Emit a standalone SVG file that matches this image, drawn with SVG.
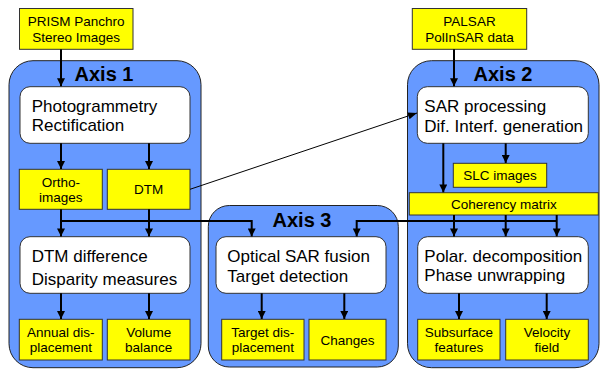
<svg xmlns="http://www.w3.org/2000/svg" width="600" height="369" viewBox="0 0 600 369">
<defs>
<style>
.axis{fill:#6699ff;stroke:#222;stroke-width:1}
.proc{fill:#ffffff;stroke:#333;stroke-width:1}
.data{fill:#ffff00;stroke:#333;stroke-width:1}
.ttl{font-family:"Liberation Sans",Arial,sans-serif;font-weight:bold;font-size:20px;fill:#000;text-anchor:middle}
.big{font-family:"Liberation Sans",Arial,sans-serif;font-size:17px;fill:#000}
.sm{font-family:"Liberation Sans",Arial,sans-serif;font-size:13.5px;fill:#000;text-anchor:middle}
.c{fill:none;stroke:#000;stroke-width:2}
.thin{fill:none;stroke:#000;stroke-width:1}
</style>
<marker id="ah" markerUnits="userSpaceOnUse" markerWidth="8" markerHeight="8" viewBox="0 0 8 8" refX="8" refY="4" orient="auto">
<path d="M0,0 L8,4 L0,8 Z" fill="#000"/>
</marker>
<marker id="ahs" markerUnits="userSpaceOnUse" markerWidth="9" markerHeight="7" viewBox="0 0 9 7" refX="9" refY="3.5" orient="auto">
<path d="M0,0 L9,3.5 L0,7 Z" fill="#000"/>
</marker>
</defs>

<g id="axis1">
<rect class="axis" x="9" y="60.7" width="192" height="307" rx="24"/>
<text class="ttl" x="104" y="81">Axis 1</text>
</g>
<g id="axis3">
<rect class="axis" x="208.3" y="205.5" width="190" height="161.5" rx="21"/>
<text class="ttl" x="302" y="227">Axis 3</text>
</g>
<g id="axis2">
<rect class="axis" x="407.5" y="60.7" width="191.5" height="307" rx="24"/>
<text class="ttl" x="503" y="81">Axis 2</text>
</g>

<g id="prism">
<rect class="data" x="19.5" y="8.5" width="113.5" height="40.8"/>
<text class="sm" x="76.2" y="26.3">PRISM Panchro</text>
<text class="sm" x="76.2" y="41.7">Stereo Images</text>
</g>
<g id="palsar">
<rect class="data" x="412.3" y="8.5" width="114.4" height="40.8"/>
<text class="sm" x="469.5" y="26.3">PALSAR</text>
<text class="sm" x="469.5" y="41.7">PolInSAR data</text>
</g>

<g id="photogrammetry">
<rect class="proc" x="20" y="86.7" width="170" height="56.6" rx="10"/>
<text class="big" x="31.7" y="111.7">Photogrammetry</text>
<text class="big" x="31.7" y="131">Rectification</text>
</g>
<g id="orthoimages">
<rect class="data" x="19.3" y="169.3" width="83" height="40"/>
<text class="sm" x="60.8" y="186.5">Ortho-</text>
<text class="sm" x="60.8" y="201.5">images</text>
</g>
<g id="dtm">
<rect class="data" x="107.3" y="169.3" width="82.7" height="40"/>
<text class="sm" x="148.7" y="194.3">DTM</text>
</g>
<g id="dtmdiff">
<rect class="proc" x="20" y="236.7" width="170" height="56.6" rx="10"/>
<text class="big" x="31.7" y="261.7">DTM difference</text>
<text class="big" x="31.7" y="285">Disparity measures</text>
</g>
<g id="annual">
<rect class="data" x="19.3" y="319.3" width="83" height="40.7"/>
<text class="sm" x="60.8" y="337.3">Annual dis-</text>
<text class="sm" x="60.8" y="352">placement</text>
</g>
<g id="volume">
<rect class="data" x="107.3" y="319.3" width="82.7" height="40.7"/>
<text class="sm" x="148.7" y="337.3">Volume</text>
<text class="sm" x="148.7" y="352">balance</text>
</g>

<g id="optical">
<rect class="proc" x="216" y="236.7" width="170" height="56.6" rx="10"/>
<text class="big" x="227.3" y="261.7">Optical SAR fusion</text>
<text class="big" x="227.3" y="281.7">Target detection</text>
</g>
<g id="targetdisp">
<rect class="data" x="221.7" y="319.3" width="82.3" height="40.7"/>
<text class="sm" x="262.8" y="337.3">Target dis-</text>
<text class="sm" x="262.8" y="352">placement</text>
</g>
<g id="changes">
<rect class="data" x="309" y="319.3" width="77" height="40.7"/>
<text class="sm" x="347.5" y="344.7">Changes</text>
</g>

<g id="sarproc">
<rect class="proc" x="417.3" y="86.7" width="171" height="56.6" rx="10"/>
<text class="big" x="424.3" y="111.7">SAR processing</text>
<text class="big" x="424.3" y="131.7">Dif. Interf. generation</text>
</g>
<g id="slc">
<rect class="data" x="453.3" y="163.3" width="93.4" height="24"/>
<text class="sm" x="500" y="180.2">SLC images</text>
</g>
<g id="coherency">
<rect class="data" x="409.3" y="192.7" width="189" height="22.3"/>
<text class="sm" x="503.8" y="208.7">Coherency matrix</text>
</g>
<g id="polar">
<rect class="proc" x="417.7" y="236.7" width="170.6" height="56.6" rx="10"/>
<text class="big" x="424.3" y="261.7">Polar. decomposition</text>
<text class="big" x="424.3" y="281.3">Phase unwrapping</text>
</g>
<g id="subsurface">
<rect class="data" x="417.7" y="319.3" width="82.3" height="40.7"/>
<text class="sm" x="458.8" y="337.3">Subsurface</text>
<text class="sm" x="458.8" y="352">features</text>
</g>
<g id="velocity">
<rect class="data" x="505.7" y="319.3" width="82.6" height="40.7"/>
<text class="sm" x="547" y="337.3">Velocity</text>
<text class="sm" x="547" y="352">field</text>
</g>

<g id="connectors">
<path class="c" d="M61,49.3 V86.2" marker-end="url(#ah)"/>
<path class="c" d="M454,49.3 V86.2" marker-end="url(#ah)"/>
<path class="c" d="M61,143.3 V169" marker-end="url(#ah)"/>
<path class="c" d="M149,143.3 V169" marker-end="url(#ah)"/>
<path class="thin" d="M190,189.3 L417,113" marker-end="url(#ahs)"/>
<path class="c" d="M505.7,143.3 V163" marker-end="url(#ah)"/>
<path class="c" d="M443.3,143.3 V192.4" marker-end="url(#ah)"/>
<path class="c" d="M61,209.3 V236.4" marker-end="url(#ah)"/>
<path class="c" d="M149,209.3 V236.4" marker-end="url(#ah)"/>
<path class="c" d="M61,221 H251.7 V236.4" marker-end="url(#ah)"/>
<path class="c" d="M454,215 V236.4" marker-end="url(#ah)"/>
<path class="c" d="M505.7,215 V236.4" marker-end="url(#ah)"/>
<path class="c" d="M556.7,215 V236.4" marker-end="url(#ah)"/>
<path class="c" d="M556.7,221 H356.7 V236.4" marker-end="url(#ah)"/>
<path class="c" d="M61,293.3 V319" marker-end="url(#ah)"/>
<path class="c" d="M149,293.3 V319" marker-end="url(#ah)"/>
<path class="c" d="M261.7,293.3 V319" marker-end="url(#ah)"/>
<path class="c" d="M344.3,293.3 V319" marker-end="url(#ah)"/>
<path class="c" d="M459,293.3 V319" marker-end="url(#ah)"/>
<path class="c" d="M546.7,293.3 V319" marker-end="url(#ah)"/>
</g>
</svg>
